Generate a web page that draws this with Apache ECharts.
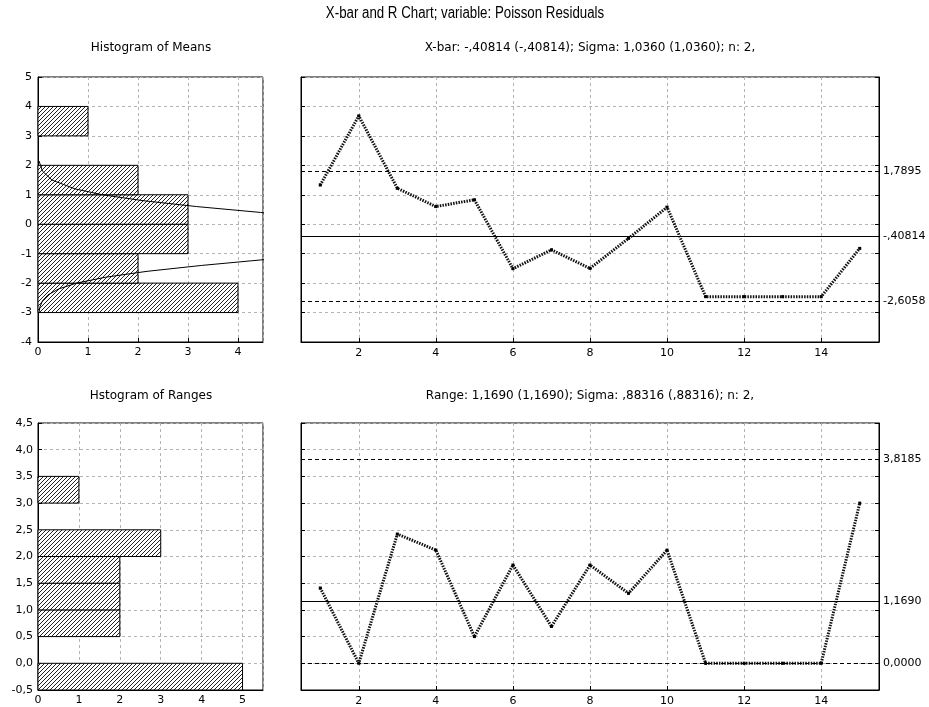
<!DOCTYPE html>
<html><head><meta charset="utf-8">
<script src="https://cdn.jsdelivr.net/npm/echarts@6/dist/echarts.min.js"></script>
<style>html,body{margin:0;padding:0;background:#fff}#c{width:929px;height:707px}</style>
</head><body><div id="c"></div>
<script>
// ---------- data ----------
const mainTitle = 'X-bar and R Chart; variable: Poisson Residuals';
const meansTitle = 'Histogram of Means';
const rangesHistTitle = 'Hstogram of Ranges';
const xbarTitle = 'X-bar: -,40814 (-,40814); Sigma: 1,0360 (1,0360); n: 2,';
const rangeTitle = 'Range: 1,1690 (1,1690); Sigma: ,88316 (,88316); n: 2,';

const samples = [1, 2, 3, 4, 5, 6, 7, 8, 9, 10, 11, 12, 13, 14, 15];
const xbarValues = [1.33, 3.68, 1.22, 0.60, 0.83, -1.51, -0.87, -1.50, -0.48, 0.58, -2.46, -2.46, -2.46, -2.46, -0.82];
const rangeValues = [1.41, 0.00, 2.42, 2.12, 0.50, 1.84, 0.69, 1.84, 1.31, 2.12, 0.00, 0.00, 0.00, 0.00, 3.00];

const xbarLimitValues = [1.7895, -0.40814, -2.6058];
const xbarLimitLabels = ['1,7895', '-,40814', '-2,6058'];
const rangeLimitValues = [3.8185, 1.1690, 0.0];
const rangeLimitLabels = ['3,8185', '1,1690', '0,0000'];

const meanBinLow = [-3, -2, -1, 0, 1, 3];
const meanBinHigh = [-2, -1, 0, 1, 2, 4];
const meanBinCounts = [4, 2, 3, 3, 2, 1];

const rangeBinLow = [-0.5, 0.5, 1.0, 1.5, 2.0, 3.0];
const rangeBinHigh = [0.0, 1.0, 1.5, 2.0, 2.5, 3.5];
const rangeBinCounts = [5, 2, 2, 2, 3, 1];

// normal curve (x = frequency, y = value)
const curveUpperX = [0.02, 0.09, 0.28, 0.74, 1.29, 2.10, 3.17, 4.45, 4.60];
const curveUpperY = [2.15, 1.8, 1.5, 1.2, 1.0, 0.8, 0.6, 0.4, 0.37];
const curveLowerX = [0.02, 0.04, 0.09, 0.20, 0.41, 0.77, 1.35, 2.18, 3.27, 4.60];
const curveLowerY = [-3.0, -2.8, -2.6, -2.4, -2.2, -2.0, -1.8, -1.6, -1.4, -1.19];

const xTickValues = [2, 4, 6, 8, 10, 12, 14];

// ---------- helpers ----------
function hatch() {
  const c = document.createElement('canvas');
  c.width = 4; c.height = 4;
  const g = c.getContext('2d');
  g.fillStyle = '#fff'; g.fillRect(0, 0, 4, 4);
  g.strokeStyle = '#222'; g.lineWidth = 1;
  g.beginPath();
  g.moveTo(0, 4); g.lineTo(4, 0);
  g.moveTo(-1, 1); g.lineTo(1, -1);
  g.moveTo(3, 5); g.lineTo(5, 3);
  g.stroke();
  return c;
}
const hatchImg = hatch();
const FONT = 'DejaVu Sans';
const grey = '#b4b4b4';
const splitLine = { show: true, lineStyle: { color: grey, type: [3, 3], width: 1 } };
const axisLine = { show: true, onZero: false, lineStyle: { color: '#000', width: 1 } };
const tickIn = { show: true, inside: true, length: 4, lineStyle: { color: '#000' } };
const lbl = { color: '#000', fontSize: 11, fontFamily: FONT };
const comma1 = v => v.toFixed(1).replace('.', ',');

function zip(a, b) { return a.map((v, i) => [v, b[i]]); }
function bins(lo, hi, cnt) { return lo.map((v, i) => [v, hi[i], cnt[i]]); }

function histRender(params, api) {
  const lo = api.value(0), hi = api.value(1), c = api.value(2);
  const p0 = api.coord([0, lo]);
  const p1 = api.coord([c, hi]);
  return {
    type: 'rect',
    shape: { x: p0[0], y: p1[1], width: p1[0] - p0[0], height: p0[1] - p1[1] },
    style: { fill: { image: hatchImg, repeat: 'repeat' }, stroke: '#000', lineWidth: 1 }
  };
}

function limitLines(vals, labels) {
  return {
    silent: true, symbol: 'none', animation: false,
    data: vals.map((v, i) => ({
      yAxis: v,
      lineStyle: { color: '#000', width: 1, type: i === 1 ? 'solid' : [4, 3] },
      label: { show: true, position: 'end', distance: 4, formatter: labels[i], color: '#000', fontSize: 11, fontFamily: FONT }
    }))
  };
}

const dataLine = { color: '#111', width: 3, type: [1.5, 1.2], cap: 'butt' };

const gridBase = { show: true, borderColor: '#000', borderWidth: 1, backgroundColor: 'transparent', containLabel: false, outerBoundsMode: 'none' };
const subStyle = { fontSize: 12, fontWeight: 'normal', color: '#000', fontFamily: FONT };

const option = {
  animation: false,
  backgroundColor: '#fff',
  textStyle: { fontFamily: FONT },
  graphic: [
    { type: 'text', x: 465, y: 14, scaleX: 0.83, silent: true,
      style: { text: mainTitle, fontSize: 16, fontFamily: 'Liberation Sans', fill: '#000', align: 'center', verticalAlign: 'middle' } }
  ],
  title: [
    { text: meansTitle, left: 151, top: 42, textAlign: 'center', padding: 0, textStyle: subStyle },
    { text: xbarTitle, left: 590, top: 42, textAlign: 'center', padding: 0, textStyle: subStyle },
    { text: rangesHistTitle, left: 151, top: 390, textAlign: 'center', padding: 0, textStyle: subStyle },
    { text: rangeTitle, left: 590, top: 390, textAlign: 'center', padding: 0, textStyle: subStyle }
  ],
  grid: [
    Object.assign({ left: 38, top: 77, width: 225, height: 265 }, gridBase),
    Object.assign({ left: 301, top: 77, width: 578, height: 265 }, gridBase),
    Object.assign({ left: 38, top: 423, width: 225, height: 267 }, gridBase),
    Object.assign({ left: 301, top: 423, width: 578, height: 267 }, gridBase)
  ],
  xAxis: [
    { gridIndex: 0, type: 'value', min: 0, max: 4.5, interval: 1, axisLine, axisTick: tickIn, splitLine,
      axisLabel: Object.assign({ margin: 5, showMaxLabel: false }, lbl) },
    { gridIndex: 1, type: 'value', min: 0.5, max: 15.5, axisLine,
      axisTick: Object.assign({ customValues: xTickValues }, tickIn), splitLine,
      axisLabel: Object.assign({ margin: 6, customValues: xTickValues }, lbl) },
    { gridIndex: 2, type: 'value', min: 0, max: 5.5, interval: 1, axisLine, axisTick: tickIn, splitLine,
      axisLabel: Object.assign({ margin: 5, showMaxLabel: false }, lbl) },
    { gridIndex: 3, type: 'value', min: 0.5, max: 15.5, axisLine,
      axisTick: Object.assign({ customValues: xTickValues }, tickIn), splitLine,
      axisLabel: Object.assign({ margin: 6, customValues: xTickValues }, lbl) }
  ],
  yAxis: [
    { gridIndex: 0, type: 'value', min: -4, max: 5, interval: 1, axisLine, axisTick: tickIn, splitLine,
      axisLabel: Object.assign({ margin: 6 }, lbl) },
    { gridIndex: 1, type: 'value', min: -4, max: 5, interval: 1, axisLine, axisTick: tickIn, splitLine,
      axisLabel: { show: false } },
    { gridIndex: 2, type: 'value', min: -0.5, max: 4.5, interval: 0.5, axisLine, axisTick: tickIn, splitLine,
      axisLabel: Object.assign({ margin: 5, formatter: comma1 }, lbl) },
    { gridIndex: 3, type: 'value', min: -0.5, max: 4.5, interval: 0.5, axisLine, axisTick: tickIn, splitLine,
      axisLabel: { show: false } },
    { gridIndex: 1, type: 'value', position: 'right', min: -4, max: 5, interval: 1, axisLine, axisTick: tickIn,
      splitLine: { show: false }, axisLabel: { show: false } },
    { gridIndex: 3, type: 'value', position: 'right', min: -0.5, max: 4.5, interval: 0.5, axisLine, axisTick: tickIn,
      splitLine: { show: false }, axisLabel: { show: false } }
  ],
  series: [
    { type: 'custom', xAxisIndex: 0, yAxisIndex: 0, renderItem: histRender, encode: { x: 2, y: [0, 1] },
      data: bins(meanBinLow, meanBinHigh, meanBinCounts), silent: true },
    { type: 'line', xAxisIndex: 0, yAxisIndex: 0, data: zip(curveUpperX, curveUpperY), symbol: 'none', clip: true,
      lineStyle: { color: '#000', width: 1 }, silent: true },
    { type: 'line', xAxisIndex: 0, yAxisIndex: 0, data: zip(curveLowerX, curveLowerY), symbol: 'none', clip: true,
      lineStyle: { color: '#000', width: 1 }, silent: true },
    { type: 'line', xAxisIndex: 1, yAxisIndex: 1, data: zip(samples, xbarValues), symbol: 'rect', symbolSize: 3,
      itemStyle: { color: '#000' }, lineStyle: dataLine, silent: true,
      markLine: limitLines(xbarLimitValues, xbarLimitLabels) },
    { type: 'custom', xAxisIndex: 2, yAxisIndex: 2, renderItem: histRender, encode: { x: 2, y: [0, 1] },
      data: bins(rangeBinLow, rangeBinHigh, rangeBinCounts), silent: true },
    { type: 'line', xAxisIndex: 3, yAxisIndex: 3, data: zip(samples, rangeValues), symbol: 'rect', symbolSize: 3,
      itemStyle: { color: '#000' }, lineStyle: dataLine, silent: true,
      markLine: limitLines(rangeLimitValues, rangeLimitLabels) }
  ]
};
const chart = echarts.init(document.getElementById('c'), null, { renderer: 'canvas' });
chart.setOption(option);
</script>
</body></html>
